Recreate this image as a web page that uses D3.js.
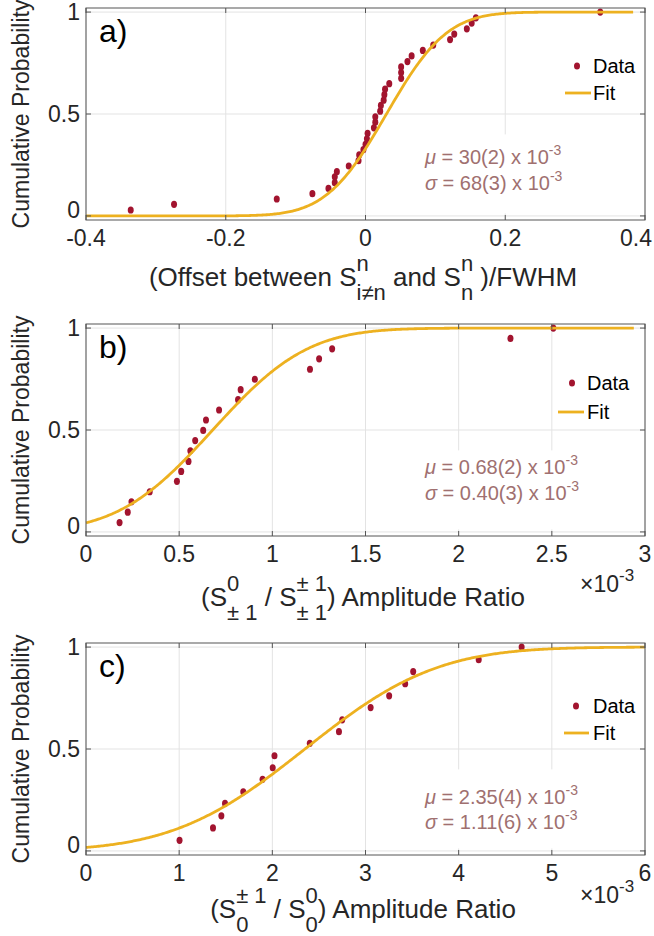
<!DOCTYPE html>
<html><head><meta charset="utf-8">
<script src="https://cdn.jsdelivr.net/npm/d3@7"></script>
<style>
body{margin:0;background:#fff}
svg{display:block}
text{font-family:"Liberation Sans", Arial, Helvetica, sans-serif; white-space:pre;}
</style>
</head><body>
<svg id="chart" width="654" height="936"></svg>
<script>
// ---------------- DATA ----------------
// Panel a: offset / FWHM
const aX = [-0.336,-0.274,-0.127,-0.076,-0.053,-0.044,-0.044,-0.041,-0.024,-0.010,-0.009,-0.003,0.000,0.002,0.003,0.012,0.014,0.014,0.021,0.022,0.026,0.027,0.028,0.034,0.051,0.051,0.051,0.060,0.066,0.082,0.097,0.121,0.127,0.145,0.152,0.158,0.336];
const aY = [0.029,0.057,0.083,0.109,0.135,0.163,0.192,0.217,0.245,0.271,0.299,0.325,0.351,0.378,0.405,0.432,0.460,0.486,0.514,0.542,0.568,0.595,0.622,0.649,0.675,0.703,0.731,0.757,0.785,0.812,0.838,0.865,0.892,0.918,0.946,0.972,1.0];
// Panel b: amplitude ratio (x 10^-3)
const bX = [0.180,0.224,0.244,0.342,0.488,0.511,0.550,0.560,0.586,0.629,0.644,0.714,0.816,0.830,0.906,1.202,1.251,1.321,2.278,2.508];
const bY = [0.046,0.097,0.148,0.197,0.248,0.297,0.346,0.398,0.448,0.498,0.549,0.598,0.649,0.698,0.749,0.798,0.849,0.898,0.949,1.0];
// Panel c: amplitude ratio (x 10^-3)
const cX = [1.004,1.363,1.453,1.492,1.688,1.895,2.004,2.023,2.402,2.715,2.750,3.055,3.254,3.426,3.512,4.215,4.676];
const cY = [0.052,0.113,0.172,0.233,0.290,0.351,0.408,0.467,0.528,0.585,0.643,0.703,0.761,0.820,0.880,0.938,1.0];

// Fit (normal CDF) parameters
const fitMu = [0.030, 0.68, 2.35];
const fitSigma = [0.068, 0.40, 1.11];
const fitRanges = [[-0.4, 0.383], [0, 2.94], [0, 6]];
const muText = ["30(2)", "0.68(2)", "2.35(4)"];
const sigmaText = ["68(3)", "0.40(3)", "1.11(6)"];

// Axes
const xDomains = [[-0.4, 0.4], [0, 3], [0, 6]];
const aXTicks = [-0.4, -0.2, 0, 0.2, 0.4];
const aXTickLabels = ["-0.4", "-0.2", "0", "0.2", "0.4"];
const bXTicks = [0, 0.5, 1, 1.5, 2, 2.5, 3];
const bXTickLabels = ["0", "0.5", "1", "1.5", "2", "2.5", "3"];
const cXTicks = [0, 1, 2, 3, 4, 5, 6];
const cXTickLabels = ["0", "1", "2", "3", "4", "5", "6"];
const yTicks = [0, 0.5, 1];
const yTickLabels = ["0", "0.5", "1"];
const yDomain = [-0.02, 1.02];
const panelNames = ["a)", "b)", "c)"];
const yLabel = "Cumulative Probability";
const legendLabels = ["Data", "Fit"];
const xLabels = [
  [{t:"(Offset between S"},{sup:"n",sub:"i\u2260n"},{t:" and S"},{sup:"n",sub:"n"},{t:" )/FWHM"}],
  [{t:"(S"},{sup:"0",sub:"\u00b1 1"},{t:" / S"},{sup:"\u00b1 1",sub:"\u00b1 1"},{t:") Amplitude Ratio"}],
  [{t:"(S"},{sup:"\u00b1 1",sub:"0"},{t:" / S"},{sup:"0",sub:"0"},{t:") Amplitude Ratio"}]
];
const showExponent = [false, true, true];

// ---------------- LAYOUT / STYLE ----------------
const L = 86, R = 645;
const layout = [
  {top:8,   bottom:220, xTickBase:246, xLabelBase:286, expBase:0,   nameBase:42,  legData:66,  legFit:93,  legDotX:577, legTextX:593, legLine:[565,591], muBase:164, sigBase:190},
  {top:324, bottom:536, xTickBase:562, xLabelBase:606, expBase:592, nameBase:358, legData:383, legFit:412, legDotX:572, legTextX:587, legLine:[558,584], muBase:474, sigBase:500},
  {top:643, bottom:855, xTickBase:881, xLabelBase:918, expBase:903, nameBase:677, legData:706, legFit:733, legDotX:576, legTextX:593, legLine:[564,589], muBase:804, sigBase:829}
];
const C = {data:"#a2142f", fit:"#edb120", grid:"#e3e3e3", frame:"#555555", text:"#262626", annot:"#a07070"};
const FS = {tick:23, ylab:23, xlab:26, xsub:22, exp:23, name:32, legend:20, annot:20};

const svg = d3.select("#chart");

function erf(x){
  const s = Math.sign(x); x = Math.abs(x);
  const t = 1/(1+0.3275911*x);
  const y = 1-(((((1.061405429*t-1.453152027)*t)+1.421413741)*t-0.284496736)*t+0.254829592)*t*Math.exp(-x*x);
  return s*y;
}
function normCdf(x, mu, s){ return 0.5*(1+erf((x-mu)/(s*Math.SQRT2))); }

// rich text with stacked super/subscripts
function richText(parent, segs, o){
  const g = parent.append("g");
  let x = 0;
  segs.forEach(s => {
    if (s.t !== undefined){
      const t = g.append("text").attr("x", x).attr("y", 0).attr("font-size", o.size)
        .attr("fill", o.fill).attr("font-style", s.it ? "italic" : null).text(s.t);
      x += t.node().getComputedTextLength();
    } else {
      let w = 0;
      if (s.sup !== undefined){
        const t = g.append("text").attr("x", x).attr("y", o.supDy).attr("font-size", o.subSize).attr("fill", o.fill).text(s.sup);
        w = Math.max(w, t.node().getComputedTextLength());
      }
      if (s.sub !== undefined){
        const t = g.append("text").attr("x", x).attr("y", o.subDy).attr("font-size", o.subSize).attr("fill", o.fill).text(s.sub);
        w = Math.max(w, t.node().getComputedTextLength());
      }
      x += w;
    }
  });
  return {g, width:x};
}

const xTicksAll = [aXTicks, bXTicks, cXTicks];
const xTickLabelsAll = [aXTickLabels, bXTickLabels, cXTickLabels];
const xsAll = [aX, bX, cX];
const ysAll = [aY, bY, cY];

layout.forEach((P, i) => {
  const x = d3.scaleLinear().domain(xDomains[i]).range([L, R]);
  const y = d3.scaleLinear().domain(yDomain).range([P.bottom, P.top]);
  const g = svg.append("g");

  // grid
  g.append("g").selectAll("line").data(xTicksAll[i]).join("line")
    .attr("x1", d => x(d)).attr("x2", d => x(d)).attr("y1", P.top).attr("y2", P.bottom)
    .attr("stroke", C.grid).attr("stroke-width", 1);
  g.append("g").selectAll("line").data(yTicks).join("line")
    .attr("x1", L).attr("x2", R).attr("y1", d => y(d)).attr("y2", d => y(d))
    .attr("stroke", C.grid).attr("stroke-width", 1);

  // annotation background box
  g.append("rect").attr("x", 418).attr("width", 180)
    .attr("y", y(0.40)).attr("height", y(0.012) - y(0.40)).attr("fill", "#fff");

  // data points
  g.append("g").selectAll("ellipse").data(d3.zip(xsAll[i], ysAll[i])).join("ellipse")
    .attr("cx", d => x(d[0])).attr("cy", d => y(d[1])).attr("rx", 3).attr("ry", 3.6)
    .attr("fill", C.data);

  // fit
  const [f0, f1] = fitRanges[i];
  const fx = d3.range(401).map(k => f0 + (f1 - f0) * k / 400);
  g.append("path").datum(fx)
    .attr("d", d3.line().x(d => x(d)).y(d => y(normCdf(d, fitMu[i], fitSigma[i]))))
    .attr("fill", "none").attr("stroke", C.fit).attr("stroke-width", 2.8);

  // frame
  g.append("rect").attr("x", L).attr("y", P.top).attr("width", R - L).attr("height", P.bottom - P.top)
    .attr("fill", "none").attr("stroke", C.frame).attr("stroke-width", 1);
  // ticks (inward, all four sides)
  const tk = 5;
  g.append("g").selectAll("path").data(xTicksAll[i]).join("path")
    .attr("d", d => `M${x(d)},${P.bottom}v${-tk}M${x(d)},${P.top}v${tk}`)
    .attr("stroke", C.frame).attr("stroke-width", 1);
  g.append("g").selectAll("path").data(yTicks).join("path")
    .attr("d", d => `M${L},${y(d)}h${tk}M${R},${y(d)}h${-tk}`)
    .attr("stroke", C.frame).attr("stroke-width", 1);

  // tick labels (kept inside the page)
  g.append("g").selectAll("text").data(xTicksAll[i]).join("text")
    .attr("y", P.xTickBase).attr("text-anchor", "middle")
    .attr("font-size", FS.tick).attr("fill", C.text)
    .text((d, k) => xTickLabelsAll[i][k])
    .attr("x", function(d){
      const w = this.getComputedTextLength();
      return Math.min(x(d), 652 - w / 2);
    });
  g.append("g").selectAll("text").data(yTicks).join("text")
    .attr("x", 80).attr("y", d => y(d) + 8 - (d === 0 ? 6 : 0)).attr("text-anchor", "end")
    .attr("font-size", FS.tick).attr("fill", C.text)
    .text((d, k) => yTickLabels[k]);

  // y label
  g.append("text").attr("transform", `translate(29,${(P.top + P.bottom) / 2}) rotate(-90)`)
    .attr("text-anchor", "middle").attr("font-size", FS.ylab).attr("fill", C.text).text(yLabel);

  // x label
  const xl = richText(g, xLabels[i], {size:FS.xlab, subSize:FS.xsub, supDy:-15, subDy:14, fill:C.text});
  xl.g.attr("transform", `translate(${363 - xl.width / 2},${P.xLabelBase})`);

  // exponent
  if (showExponent[i]){
    const ex = richText(g, [{t:"\u00d710"},{sup:"-3"}], {size:FS.exp, subSize:17, supDy:-11, subDy:0, fill:C.text});
    ex.g.attr("transform", `translate(580,${P.expBase})`);
  }

  // panel name
  g.append("text").attr("x", 99).attr("y", P.nameBase).attr("font-size", FS.name).attr("fill", "#000").text(panelNames[i]);

  // legend
  g.append("ellipse").attr("cx", P.legDotX).attr("cy", P.legData).attr("rx", 3).attr("ry", 3.6).attr("fill", C.data);
  g.append("text").attr("x", P.legTextX).attr("y", P.legData + 7).attr("font-size", FS.legend).attr("fill", "#000").text(legendLabels[0]);
  g.append("line").attr("x1", P.legLine[0]).attr("x2", P.legLine[1]).attr("y1", P.legFit).attr("y2", P.legFit)
    .attr("stroke", C.fit).attr("stroke-width", 2.8);
  g.append("text").attr("x", P.legTextX).attr("y", P.legFit + 7).attr("font-size", FS.legend).attr("fill", "#000").text(legendLabels[1]);

  // annotation
  const mu = richText(g, [{t:"\u03bc", it:true},{t:" = " + muText[i] + " x 10"},{sup:"-3"}], {size:FS.annot, subSize:14, supDy:-9, subDy:0, fill:C.annot});
  mu.g.attr("transform", `translate(425,${P.muBase})`);
  const sg = richText(g, [{t:"\u03c3", it:true},{t:" = " + sigmaText[i] + " x 10"},{sup:"-3"}], {size:FS.annot, subSize:14, supDy:-9, subDy:0, fill:C.annot});
  sg.g.attr("transform", `translate(425,${P.sigBase})`);
});
</script>
</body></html>
